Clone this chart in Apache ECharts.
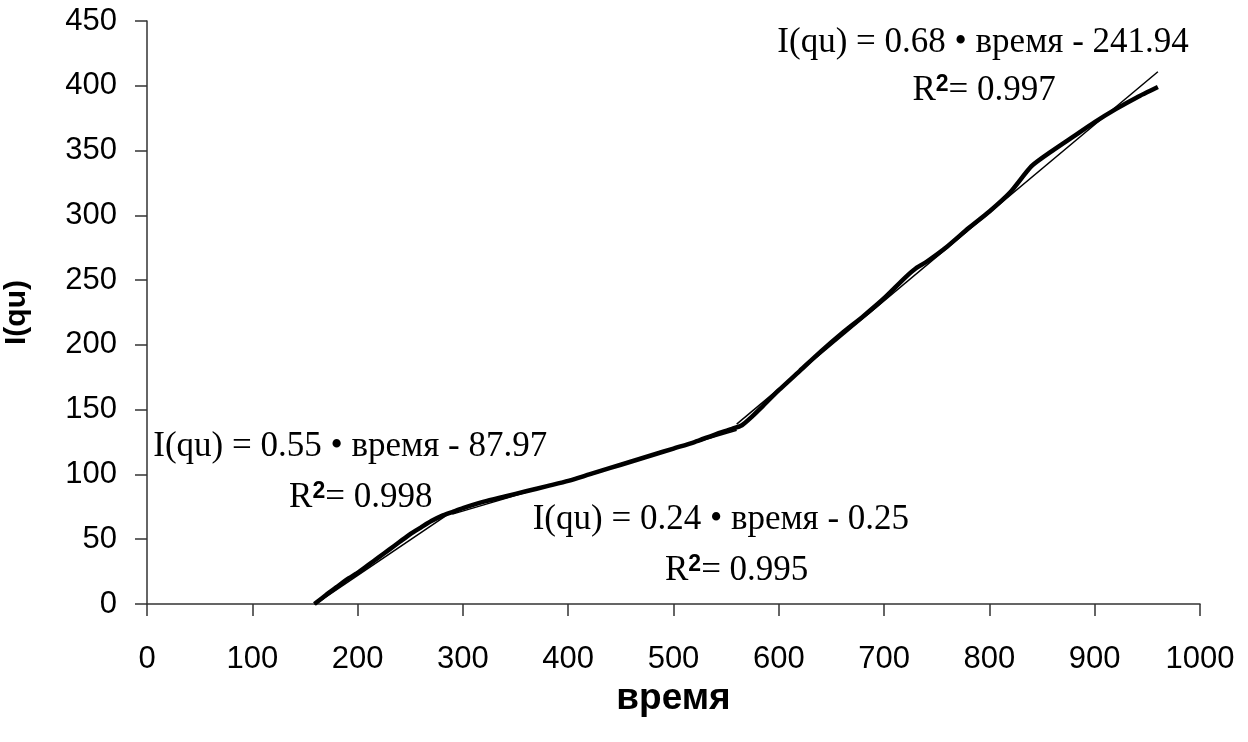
<!DOCTYPE html>
<html>
<head>
<meta charset="utf-8">
<script src="https://cdn.jsdelivr.net/npm/echarts@6/dist/echarts.min.js"></script>
<style>
  html, body { margin: 0; padding: 0; background: #fff; }
  #chart { width: 1248px; height: 742px; }
</style>
</head>
<body>
<div id="chart"></div>
<script>
// измеренная кривая I(qu) от времени
var timeValues = [159, 170, 180, 190, 200, 210, 220, 230, 240, 250, 260, 270, 280, 290, 300,
  320, 340, 360, 380, 400, 420, 440, 460, 480, 500, 520, 540, 555, 565, 575, 585, 600,
  620, 640, 660, 680, 700, 720, 730, 740, 760, 780, 800, 820, 840, 860, 880, 900, 920, 940, 960];
var iquValues = [0, 7, 13, 19, 24, 30, 36, 42, 48, 54, 59, 64, 68, 71, 74,
  79, 83, 87, 91, 95, 100, 105, 110, 115, 120, 125, 131, 135, 138, 145, 153, 165,
  180, 195, 209, 222, 236, 252, 259, 264, 276, 290, 303, 318, 338, 350, 361, 372, 382, 391, 399];

// линейные тренды по участкам
var trendSlopes = [0.55, 0.24, 0.68];
var trendOffsets = [-87.97, -0.25, -241.94];
var trendStarts = [159, 290, 560];
var trendEnds = [290, 560, 960];
var trendR2 = ['0.998', '0.995', '0.997'];

var xTicks = { min: 0, max: 1000, interval: 100 };
var yTicks = { min: 0, max: 450, interval: 50 };

var curve = timeValues.map(function (t, i) { return [t, iquValues[i]]; });

function trendLine(k) {
  var a = trendStarts[k], b = trendEnds[k];
  return [[a, trendSlopes[k] * a + trendOffsets[k]], [b, trendSlopes[k] * b + trendOffsets[k]]];
}

function eqText(k) {
  var off = trendOffsets[k];
  return 'I(qu) = ' + trendSlopes[k].toFixed(2) + ' \u2022 время ' + (off < 0 ? '- ' : '+ ') + Math.abs(off).toFixed(2);
}

var serif = '"Liberation Serif", "Times New Roman", serif';
var sans = '"Liberation Sans", Arial, sans-serif';

var richStyles = {
  t: { fontFamily: serif, fontSize: 35, color: '#000' },
  sup: { fontFamily: sans, fontSize: 23, fontWeight: 'bold', color: '#000', verticalAlign: 'top', padding: [0, 0, 4, 0] }
};

// места подписей (в координатах осей)
var eqPos = [[193, 121], [545, 65], [794, 433]];
var r2Pos = [[203, 82], [560, 26], [795, 396]];

var marks = [];
for (var k = 0; k < 3; k++) {
  marks.push({ coord: eqPos[k], label: { formatter: '{t|' + eqText(k) + '}' } });
  marks.push({ coord: r2Pos[k], label: { formatter: '{t|R}{sup|2}{t|= ' + trendR2[k] + '}' } });
}

var chart = echarts.init(document.getElementById('chart'));

var series = [{
  name: 'I(qu)',
  type: 'line',
  data: curve,
  symbol: 'none',
  smooth: 0.2,
  lineStyle: { color: '#000', width: 4.5 },
  z: 3,
  markPoint: {
    symbol: 'circle',
    symbolSize: 0,
    silent: true,
    label: { show: true, position: 'inside', rich: richStyles },
    data: marks
  }
}];
for (var j = 0; j < 3; j++) {
  series.push({
    type: 'line',
    data: trendLine(j),
    symbol: 'none',
    lineStyle: { color: '#000', width: 1.5 },
    z: 4
  });
}

chart.setOption({
  animation: false,
  backgroundColor: '#fff',
  grid: { left: 147, right: 48, top: 21, bottom: 138, containLabel: false, outerBoundsMode: 'none' },
  xAxis: {
    type: 'value',
    min: xTicks.min, max: xTicks.max, interval: xTicks.interval,
    name: 'время',
    nameLocation: 'middle',
    nameGap: 76,
    nameTextStyle: { fontFamily: sans, fontSize: 37, fontWeight: 'bold', color: '#000' },
    axisLine: { show: true, lineStyle: { color: '#333', width: 1.5 } },
    axisTick: { show: true, inside: false, length: 12, lineStyle: { color: '#333', width: 1.5 } },
    axisLabel: { fontFamily: sans, fontSize: 31, color: '#000', margin: 40, formatter: function (v) { return String(v); } },
    splitLine: { show: false }
  },
  yAxis: {
    type: 'value',
    min: yTicks.min, max: yTicks.max, interval: yTicks.interval,
    name: 'I(qu)',
    nameLocation: 'middle',
    nameGap: 115,
    nameRotate: 90,
    nameTextStyle: { fontFamily: sans, fontSize: 30, fontWeight: 'bold', color: '#000' },
    axisLine: { show: true, lineStyle: { color: '#333', width: 1.5 } },
    axisTick: { show: true, inside: false, length: 12, lineStyle: { color: '#333', width: 1.5 } },
    axisLabel: { fontFamily: sans, fontSize: 31, color: '#000', margin: 30 },
    splitLine: { show: false }
  },
  series: series
});
</script>
</body>
</html>
